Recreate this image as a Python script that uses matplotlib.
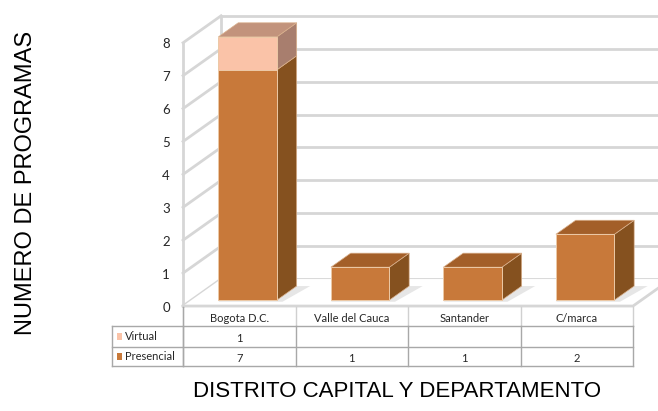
import matplotlib
matplotlib.use("Agg")
import matplotlib.pyplot as plt
from matplotlib.patches import Polygon, Rectangle

# ---- data ----
categories = ["Bogota D.C.", "Valle del Cauca", "Santander", "C/marca"]
presencial = [7, 1, 1, 2]
virtual = [1, 0, 0, 0]
y_ticks = [0, 1, 2, 3, 4, 5, 6, 7, 8]
series_names = ["Virtual", "Presencial"]

# ---- style ----
C_PRES = dict(front="#c8793a", side="#85511f", top="#a35f29")
C_VIRT = dict(front="#fac3a8", side="#a87e6e", top="#c2937c")
GRID = "#d6d6d6"
TABLE = "#a8a8a8"
FONT = "Lato"

# oblique depth of the plot box (x in category units, y in value units)
DX, DY = 0.338, 0.82
F_FRONT, F_BACK = 0.22, 0.74   # bar front/back position inside the box depth
BAR_W = 0.52
N = len(categories)
YMAX = y_ticks[-1]

fig = plt.figure(figsize=(6.58, 4.11), dpi=100)
ax = fig.add_axes([0, 0, 1, 1])
ax.set_xlim(-2.127, 3.722)
ax.set_ylim(-3.19, 9.30)
ax.axis("off")

x0, x1 = -0.5, N - 0.5

# back wall gridlines
for v in y_ticks:
    ax.plot([x0 + DX, x1 + DX + 1], [v + DY, v + DY], color=GRID, lw=2.0,
            solid_capstyle="butt", zorder=1)
ax.plot([x0 + DX, x0 + DX], [DY, YMAX + DY], color=GRID, lw=2.0, zorder=1)

# left wall
for v in y_ticks:
    ax.plot([x0, x0 + DX], [v, v + DY], color=GRID, lw=2.0, zorder=1)
ax.plot([x0, x0], [0, YMAX], color=GRID, lw=2.0, zorder=1)

# floor
ax.add_patch(Polygon([[x0, 0], [x1, 0], [x1 + DX, DY], [x0 + DX, DY]],
                     closed=True, facecolor="white", edgecolor="none", zorder=1))
ax.plot([x0, x1, x1 + DX], [0, 0, DY], color=GRID, lw=2.0, zorder=2)


def draw_box(i, bottom, height, colors, z):
    if height <= 0:
        return
    cx = i + F_FRONT * DX
    by = bottom + F_FRONT * DY
    ddx = (F_BACK - F_FRONT) * DX
    ddy = (F_BACK - F_FRONT) * DY
    xl, xr = cx - BAR_W / 2, cx + BAR_W / 2
    top = by + height
    ax.bar(cx, height, width=BAR_W, bottom=by, color=colors["front"],
           edgecolor="#ecc9a6", linewidth=0.7, zorder=z + 1)
    ax.add_patch(Polygon([[xr, by], [xr, top], [xr + ddx, top + ddy], [xr + ddx, by + ddy]],
                         closed=True, facecolor=colors["side"], edgecolor="#d9b08c",
                         linewidth=0.5, zorder=z))
    ax.add_patch(Polygon([[xl, top], [xr, top], [xr + ddx, top + ddy], [xl + ddx, top + ddy]],
                         closed=True, facecolor=colors["top"], edgecolor="#d9b08c",
                         linewidth=0.5, zorder=z))


for i in range(N):
    # soft shadow on the floor
    cx = i + F_FRONT * DX
    sdx = (F_BACK - F_FRONT) * DX
    ax.add_patch(Polygon([[cx - BAR_W / 2, F_FRONT * DY - 0.05],
                          [cx + BAR_W / 2 + 0.05, F_FRONT * DY - 0.05],
                          [cx + BAR_W / 2 + sdx + 0.12, F_BACK * DY],
                          [cx - BAR_W / 2 + sdx, F_BACK * DY]],
                         closed=True, facecolor="#e6e6e6", edgecolor="none", zorder=3))
    z = 10 + 4 * i
    draw_box(i, 0, presencial[i], C_PRES, z)
    draw_box(i, presencial[i], virtual[i], C_VIRT, z + 2)

# value axis tick labels
for v in y_ticks:
    ax.text(-0.616, v - 0.05, str(v), ha="right", va="center", fontsize=9.5,
            family=FONT, color="#262626")

# data table
r_head, r1, r2, r3 = -0.03, -0.61, -1.25, -1.83
x_lab = -1.131
ax.plot([x0, x0], [r_head, r1], color=GRID, lw=1.0, zorder=2)
for i in range(1, N + 1):
    ax.plot([x0 + i, x0 + i], [r_head, r1], color="#d0d0d0", lw=1.0, zorder=2)
for yy in (r1, r2, r3):
    ax.plot([x_lab, x1], [yy, yy], color=TABLE, lw=1.0, zorder=2)
ax.plot([x_lab, x_lab], [r1, r3], color=TABLE, lw=1.0, zorder=2)
for i in range(N + 1):
    ax.plot([x0 + i, x0 + i], [r1, r3], color=TABLE, lw=1.0, zorder=2)
ax.plot([x0, x0], [r_head, r3], color=TABLE, lw=1.0, zorder=2)

for i, c in enumerate(categories):
    ax.text(i, (r_head + r1) / 2 - 0.05, c, ha="center", va="center",
            fontsize=8, family=FONT, color="#262626")

rows = [(series_names[0], virtual, C_VIRT["front"], (r1 + r2) / 2),
        (series_names[1], presencial, C_PRES["front"], (r2 + r3) / 2)]
for name, vals, col, yc in rows:
    ax.add_patch(Rectangle((-1.087, yc - 0.1), 0.045, 0.2, facecolor=col,
                           edgecolor="none", zorder=3))
    ax.text(-1.02, yc, name, ha="left", va="center", fontsize=8,
            family=FONT, color="#262626")
    for i, v in enumerate(vals):
        if v:
            ax.text(i, yc - 0.05, str(v), ha="center", va="center", fontsize=8,
                    family=FONT, color="#262626")

# axis titles
ax.text(-1.90, 3.74, "NUMERO DE PROGRAMAS", rotation=90, ha="center", va="center",
        fontsize=17, family="Liberation Sans", color="#000000")
ax.text(1.40, -2.61, "DISTRITO CAPITAL Y DEPARTAMENTO", ha="center", va="center",
        fontsize=16, family="Liberation Sans", color="#000000")

fig.savefig("out.png", dpi=100, facecolor="white")
